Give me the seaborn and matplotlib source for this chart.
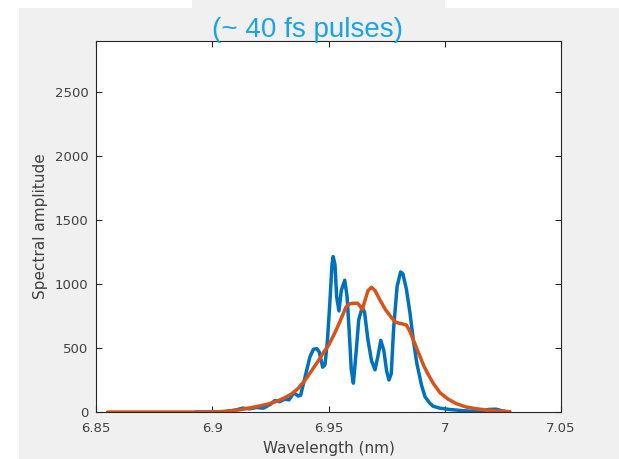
import numpy as np
import pandas as pd
import matplotlib
matplotlib.use("Agg")
import matplotlib.pyplot as plt
import seaborn as sns
from matplotlib.patches import Rectangle

# ---- data ----
blue_wl = [6.893, 6.900, 6.905, 6.910, 6.913, 6.916, 6.919, 6.922, 6.925, 6.927,
           6.929, 6.931, 6.933, 6.935, 6.937, 6.938, 6.940, 6.942, 6.9435, 6.945,
           6.946, 6.9475, 6.9485, 6.9495, 6.9505, 6.9515, 6.952, 6.9528, 6.9535, 6.9545,
           6.9555, 6.957, 6.958, 6.959, 6.9598, 6.9607, 6.9618, 6.963, 6.9645, 6.9655,
           6.967, 6.9685, 6.970, 6.9712, 6.9725, 6.9738, 6.975, 6.976, 6.977, 6.978,
           6.9795, 6.981, 6.982, 6.9835, 6.985, 6.9865, 6.988, 6.990, 6.9915, 6.9935,
           6.995, 6.998, 7.002, 7.008, 7.012, 7.016, 7.019, 7.022, 7.025, 7.027]
blue_amp = [0, 0, 3, 15, 30, 25, 35, 30, 60, 90,
            80, 100, 95, 150, 125, 130, 280, 430, 490, 495,
            470, 350, 370, 550, 830, 1150, 1215, 1150, 900, 790,
            950, 1030, 900, 600, 330, 225, 450, 720, 820, 780,
            560, 400, 330, 430, 560, 480, 320, 250, 300, 650,
            980, 1095, 1080, 960, 780, 560, 380, 210, 120, 70,
            45, 30, 20, 10, 6, 10, 20, 22, 8, 0]

orange_wl = [6.855, 6.880, 6.900, 6.906, 6.912, 6.919, 6.924, 6.928, 6.931, 6.934,
             6.937, 6.940, 6.943, 6.946, 6.948, 6.950, 6.9525, 6.955, 6.9575, 6.959,
             6.9605, 6.9625, 6.9635, 6.9645, 6.9655, 6.967, 6.9685, 6.970, 6.972, 6.9745,
             6.977, 6.979, 6.9815, 6.9835, 6.985, 6.987, 6.989, 6.991, 6.993, 6.995,
             6.998, 7.0015, 7.005, 7.009, 7.013, 7.018, 7.023, 7.028]
orange_amp = [0, 0, 0, 5, 18, 42, 62, 85, 110, 140,
              185, 250, 330, 410, 470, 520, 610, 710, 820, 845,
              850, 850, 830, 800, 860, 950, 975, 950, 880, 800,
              740, 700, 690, 680, 630, 540, 450, 360, 290, 225,
              150, 100, 65, 40, 27, 15, 8, 3]

x_ticks = [6.85, 6.9, 6.95, 7.0, 7.05]
x_tick_labels = ["6.85", "6.9", "6.95", "7", "7.05"]
y_ticks = [0, 500, 1000, 1500, 2000, 2500]
y_tick_labels = ["0", "500", "1000", "1500", "2000", "2500"]

title_text = "(~ 40 fs pulses)"
x_label = "Wavelength (nm)"
y_label = "Spectral amplitude"

# ---- figure ----
sns.set_theme(style="ticks")
plt.rcParams["font.family"] = ["DejaVu Sans"]

W, H = 619, 459
fig = plt.figure(figsize=(W / 100, H / 100), dpi=100, facecolor="white")

# gray panel backgrounds
gray = "#f0f0f0"
fig.patches.append(Rectangle((19 / W, 0), 1 - 19 / W, (H - 8) / H,
                             transform=fig.transFigure, facecolor=gray,
                             edgecolor="none", zorder=-10))
fig.patches.append(Rectangle((192 / W, (H - 41) / H), 253 / W, 41 / H,
                             transform=fig.transFigure, facecolor=gray,
                             edgecolor="none", zorder=-10))

ax = fig.add_axes([96 / W, (H - 412) / H, (561 - 96) / W, (412 - 41) / H])
ax.set_facecolor("white")

df_b = pd.DataFrame({"wl": blue_wl, "amp": blue_amp})
df_o = pd.DataFrame({"wl": orange_wl, "amp": orange_amp})
sns.lineplot(data=df_b, x="wl", y="amp", ax=ax, color="#0072BD", linewidth=2.5,
             sort=False, estimator=None)
sns.lineplot(data=df_o, x="wl", y="amp", ax=ax, color="#D95319", linewidth=2.5,
             sort=False, estimator=None)

ax.set_xlim(6.85, 7.05)
ax.set_ylim(0, 2900)
ax.set_xticks(x_ticks)
ax.set_xticklabels(x_tick_labels)
ax.set_yticks(y_ticks)
ax.set_yticklabels(y_tick_labels)

txt_col = "#404040"
ax.set_xlabel(x_label, fontsize=11, color=txt_col, labelpad=4.5)
ax.set_ylabel(y_label, fontsize=11, color=txt_col, labelpad=5)
ax.tick_params(axis="both", direction="in", length=4, width=0.8,
               colors="#262626", labelcolor=txt_col, labelsize=9.5,
               top=True, right=True)
ax.tick_params(axis="x", pad=7)
ax.tick_params(axis="y", pad=5.5)
for s in ax.spines.values():
    s.set_visible(True)
    s.set_color("#262626")
    s.set_linewidth(0.8)

fig.text(308 / W, 1 - 30 / H, title_text, color="#1aa3ea", fontsize=20,
         family="Liberation Sans", ha="center", va="center")

fig.savefig("out.png", dpi=100, facecolor="white")
